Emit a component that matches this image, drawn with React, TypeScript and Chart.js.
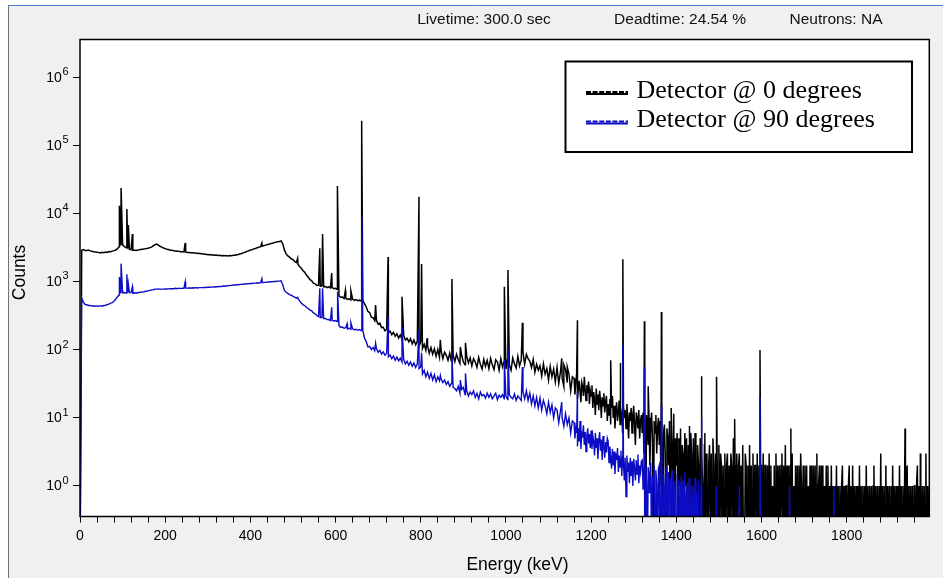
import { useEffect, useRef } from "react";
import { Chart, registerables } from "chart.js";

Chart.register(...registerables);

const W = 943;
const H = 578;

// Below 1160 keV the spectrum is kept in 4 keV bins, above it in 2 keV bins.
const COARSE_KEV = 4;
const FINE_START_KEV = 1160;
const FINE_KEV = 2;

// Detector @ 0 degrees, 0 - 1156 keV (ten 4 keV bins per row).
const COUNTS_0DEG = [
  0, 2900, 2960, 2870, 2880, 2910, 2830, 2800, 2760, 2730,
  2700, 2690, 2640, 2710, 2670, 2730, 2690, 2770, 2760, 2810,
  2860, 2920, 3050, 3250, 3400, 3480, 3300, 3150, 3050, 2980,
  2960, 2890, 2900, 2870, 2930, 2940, 2990, 2990, 3030, 3060,
  3090, 3160, 3210, 3360, 3490, 3560, 3440, 3310, 3210, 3120,
  3060, 2990, 2960, 2890, 2890, 2840, 2830, 2790, 2790, 2750,
  2760, 2730, 2730, 2690, 2690, 2650, 2660, 2630, 2630, 2590,
  2610, 2570, 2570, 2530, 2530, 2490, 2510, 2470, 2480, 2450,
  2460, 2430, 2440, 2410, 2430, 2400, 2410, 2390, 2420, 2410,
  2440, 2440, 2490, 2510, 2570, 2590, 2670, 2710, 2790, 2840,
  2910, 2950, 3030, 3070, 3160, 3190, 3270, 3310, 3390, 3440,
  3510, 3550, 3630, 3670, 3750, 3790, 3870, 3900, 3970, 3600,
  2900, 2560, 2390, 2290, 2170, 2110, 1990, 1910, 1790, 1660,
  1560, 1440, 1360, 1240, 1160, 1070, 1030, 950, 930, 880,
  890, 860, 870, 840, 850, 820, 840, 810, 820, 790,
  800, 770, 620, 590, 595, 565, 575, 550, 560, 540,
  555, 530, 545, 525, 535, 520, 530, 470, 425, 365,
  352, 301, 296, 268, 270, 238, 246, 212, 214, 190,
  200, 176, 188, 166, 181, 158, 172, 149, 165, 143,
  162, 139, 147, 131, 146, 122, 139, 118, 133, 112,
  131, 104, 120, 98, 115, 89, 108, 86, 103, 80,
  101, 78, 95, 74, 92, 83, 70, 89, 68, 84,
  67, 86, 72, 63, 83, 66, 60, 80, 64, 76,
  58, 74, 66, 55, 77, 61, 52, 72, 57, 70,
  53, 75, 60, 51, 71, 66, 50, 74, 56, 68,
  52, 73, 59, 50, 76, 62, 54, 80, 58, 71,
  92, 61, 86, 74, 68, 55, 72, 47, 61, 50,
  58, 41, 62, 44, 53, 36, 57, 40, 52, 34,
  55, 32, 47, 38, 29, 51, 33, 44, 25, 40,
];

// Detector @ 0 degrees, 1160 - 1998 keV (twenty 2 keV bins per row).
const COUNTS_0DEG_HIGH = [
  38, 22, 31, 45, 19, 27, 35, 24, 17, 33, 29, 21, 40, 26, 18, 30, 23, 34, 16, 25,
  21, 30, 14, 24, 19, 11, 27, 16, 22, 13, 25, 18, 10, 20, 15, 23, 12, 17, 21, 9,
  16, 11, 19, 8, 14, 21, 10, 15, 7, 13, 17, 9, 12, 18, 8, 14, 11, 6, 15, 10,
  13, 7, 16, 10, 5, 12, 9, 14, 6, 11, 15, 8, 4, 12, 10, 7, 13, 5, 9, 11,
  6, 12, 3, 9, 0, 11, 7, 4, 10, 2, 8, 12, 5, 0, 9, 6, 11, 3, 7, 10,
  4, 9, 1, 7, 0, 6, 8, 3, 0, 7, 5, 2, 9, 0, 6, 4, 1, 8, 0, 5,
  2, 6, 0, 5, 1, 7, 0, 4, 3, 0, 6, 1, 5, 0, 4, 2, 0, 6, 3, 0,
  5, 0, 6, 1, 0, 4, 2, 0, 5, 0, 3, 1, 0, 4, 0, 3, 1, 0, 2, 4,
  0, 3, 0, 5, 2, 0, 3, 0, 2, 0, 4, 0, 3, 2, 0, 2, 0, 3, 0, 2,
  3, 0, 2, 0, 3, 2, 0, 5, 0, 2, 0, 3, 0, 2, 3, 0, 2, 0, 4, 0,
  0, 3, 2, 0, 2, 0, 4, 0, 2, 0, 3, 0, 2, 2, 0, 3, 0, 2, 0, 2,
  2, 0, 3, 0, 2, 2, 0, 2, 0, 3, 0, 2, 0, 1, 0, 2, 0, 3, 0, 2,
  0, 2, 0, 2, 3, 0, 2, 0, 4, 0, 2, 0, 2, 0, 2, 0, 3, 0, 1, 0,
  2, 0, 2, 0, 2, 0, 3, 1, 0, 2, 0, 2, 0, 2, 0, 1, 0, 2, 0, 2,
  0, 2, 0, 2, 0, 3, 0, 1, 2, 0, 2, 0, 2, 0, 1, 0, 2, 0, 2, 0,
  1, 0, 2, 0, 1, 0, 1, 0, 2, 0, 1, 0, 1, 0, 1, 2, 0, 1, 0, 1,
  1, 0, 1, 2, 0, 1, 0, 2, 0, 1, 0, 1, 0, 1, 0, 2, 0, 1, 0, 1,
  0, 1, 0, 2, 0, 1, 0, 1, 0, 1, 0, 1, 2, 0, 1, 0, 1, 0, 1, 0,
  3, 0, 1, 0, 1, 0, 2, 0, 1, 0, 1, 0, 1, 0, 2, 0, 1, 0, 1, 0,
  1, 0, 2, 0, 1, 0, 1, 0, 1, 0, 1, 2, 0, 1, 0, 1, 0, 1, 0, 1,
  1, 0, 1, 2, 0, 1, 0, 1, 0, 1, 0, 1, 0, 3, 0, 1, 0, 1, 0, 1,
];

// Detector @ 90 degrees, 0 - 1156 keV.
const COUNTS_90DEG = [
  0, 575, 500, 462, 458, 447, 449, 438, 443, 436,
  441, 434, 444, 437, 447, 449, 462, 468, 483, 492,
  521, 556, 603, 636, 672, 688, 694, 681, 693, 690,
  694, 677, 688, 678, 693, 692, 704, 702, 718, 722,
  738, 742, 758, 762, 778, 777, 783, 772, 778, 777,
  783, 781, 784, 787, 789, 787, 798, 788, 803, 792,
  803, 797, 808, 798, 813, 802, 813, 807, 818, 807,
  818, 817, 818, 822, 823, 827, 828, 832, 833, 837,
  843, 842, 853, 847, 863, 857, 873, 867, 883, 882,
  893, 892, 903, 902, 913, 912, 923, 922, 933, 932,
  943, 942, 953, 952, 963, 957, 968, 967, 978, 977,
  988, 987, 998, 997, 1008, 1007, 1018, 1017, 1032, 900,
  742, 698, 673, 647, 632, 607, 593, 572, 562, 518,
  482, 457, 443, 417, 403, 382, 372, 347, 337, 318,
  308, 297, 298, 287, 288, 277, 278, 269, 272, 265,
  268, 259, 228, 212, 215, 207, 211, 202, 207, 200,
  203, 197, 200, 193, 198, 191, 192, 148, 132, 110,
  112, 101, 108, 97, 104, 92, 98, 86, 93, 83,
  89, 79, 84, 74, 81, 70, 78, 69, 75, 66,
  72, 62, 68, 59, 66, 57, 64, 55, 62, 53,
  56, 44, 50, 40, 47, 38, 45, 36, 43, 34,
  40, 35, 37, 33, 36, 31, 34, 29, 32, 28,
  27, 25, 29, 23, 26, 28, 22, 25, 21, 24,
  22, 25, 20, 23, 19, 24, 21, 22, 19.5, 23,
  20, 22.5, 19, 21, 23, 18.5, 21.5, 20, 22, 19,
  21, 18.5, 22, 20, 19, 22.5, 18, 21, 19.5, 18,
  24, 19, 25, 18, 23, 16, 21, 15, 20, 14,
  19.5, 13, 18, 15, 11.5, 17, 12, 15.5, 10, 14,
  13, 8.5, 12.5, 10, 7.5, 11.5, 8, 10, 6, 9,
];

// Detector @ 90 degrees, 1160 - 1998 keV.
const COUNTS_90DEG_HIGH = [
  8.5, 5, 7.5, 6, 3.8, 7, 4.5, 9, 3.5, 6, 5.5, 7.8, 4, 6.2, 3.2, 5.6, 7, 4.2, 5.8, 3.6,
  6.5, 3.5, 5.5, 4.5, 2.8, 6, 3.6, 5, 2.5, 4.6, 6.2, 3.3, 4.8, 2.4, 5.4, 3.8, 2.6, 4.4, 3.1, 5,
  4.5, 2.2, 3.8, 2.6, 1.8, 3.5, 2, 3.2, 1.5, 3, 2.4, 3.6, 1.6, 2.8, 1.9, 3.3, 1.4, 2.7, 2.1, 1.2,
  2.6, 0.7, 2.8, 1.6, 2.2, 1.1, 2.6, 1.4, 2.3, 1, 2.5, 1.8, 1.2, 2.4, 1.5, 2.9, 1.1, 2, 1.6, 2.3,
  2.4, 0.9, 1.8, 0, 2.1, 1.2, 0, 1.9, 0.8, 1.6, 2.2, 0, 1.4, 1, 2, 0, 1.7, 1.1, 0, 1.8,
  2, 0, 1.7, 1, 0, 1.5, 0.9, 0, 1.9, 1.1, 0, 1.6, 0.8, 1.3, 0, 1.7, 0, 1.2, 0.9, 0,
  0, 1.5, 0, 1.2, 0, 0.9, 1.4, 0, 1.2, 0, 1.6, 0, 0.8, 1.1, 0, 1.3, 0, 0, 1, 0,
  1, 0, 1.3, 0, 0.8, 0, 1.2, 0, 0, 1, 0, 0, 0, 0, 0, 0, 0, 0, 0, 0,
  0, 0, 0, 0, 0, 0, 0, 1, 0, 0, 0, 0, 0, 0, 0, 0, 0, 0, 0, 0,
  0, 0, 0, 0, 0, 0, 0, 0, 0, 0, 0, 0, 0, 0, 1, 0, 0, 0, 0, 0,
  0, 0, 0, 0, 0, 0, 0, 0, 0, 0, 0, 0, 0, 0, 0, 0, 0, 0, 0, 0,
  0, 0, 0, 0, 0, 0, 0, 0, 0, 0, 0, 0, 0, 0, 0, 0, 0, 0, 0, 0,
  0, 0, 0, 0, 0, 0, 0, 0, 0, 0, 0, 0, 0, 1, 0, 0, 0, 0, 0, 0,
  0, 0, 0, 0, 0, 0, 0, 0, 0, 0, 0, 0, 0, 0, 0, 0, 0, 0, 0, 0,
  0, 0, 0, 0, 0, 0, 0, 0, 0, 0, 0, 0, 0, 0, 0, 0, 0, 0, 0, 0,
  0, 0, 0, 0, 0, 1, 0, 0, 0, 0, 0, 0, 0, 0, 0, 0, 0, 0, 0, 0,
  0, 0, 0, 0, 0, 0, 0, 0, 0, 0, 0, 0, 0, 0, 0, 0, 0, 0, 0, 0,
  0, 0, 0, 0, 0, 0, 0, 0, 0, 0, 0, 0, 0, 0, 0, 0, 0, 0, 0, 0,
  0, 0, 0, 0, 0, 0, 0, 0, 0, 0, 0, 0, 0, 0, 0, 0, 0, 0, 0, 0,
  0, 0, 0, 0, 0, 0, 0, 0, 0, 0, 0, 0, 0, 0, 0, 0, 0, 0, 0, 0,
  0, 0, 0, 0, 0, 0, 0, 0, 0, 0, 0, 0, 0, 0, 0, 0, 0, 0, 0, 0,
];

// Photopeak centroids (keV) and their maximum counts.
const PEAK_KEV_0DEG = [
  92.5, 96.5, 110, 113.5, 123, 247, 427, 511, 563, 569.5, 591, 604, 604.8,
  623, 636, 660.9, 661.7, 694, 723.3, 756, 795.9, 802, 815, 846, 873.2,
  893, 905, 996.3, 1004.7, 1038.6, 1131, 1136, 1144, 1167.9, 1246, 1268,
  1274.5, 1325, 1334, 1365, 1388, 1394, 1430, 1459, 1467, 1494.5, 1537,
  1596.5, 1669, 1937, 1973,
];
const PEAK_COUNTS_0DEG = [
  13000, 23800, 11700, 6800, 5000, 3700, 3700, 2200, 3100, 5000, 1340, 12500, 25400,
  740, 735, 44000, 231000, 455, 2300, 600, 17700, 1810, 148, 140, 1090,
  110, 127, 840, 1480, 250, 75, 60, 56, 272, 70, 64,
  2130, 263, 29, 360, 14, 11.5, 7.6, 41, 6, 40, 9.6,
  99, 7, 7, 3,
];
const PEAK_KEV_90DEG = [
  92.5, 96.5, 110, 113.5, 123, 247, 427, 511, 563, 569.5, 591, 604.8, 627,
  636, 661.7, 694, 723.3, 756, 795.9, 802, 846, 873.2, 893, 905, 996.3,
  1004.7, 1038.6, 1131, 1167.9, 1274.5, 1325, 1365, 1459, 1596.5,
];
const PEAK_COUNTS_90DEG = [
  1170, 1840, 1280, 920, 840, 1000, 1110, 590, 800, 800, 420, 710, 240,
  250, 8950, 124, 305, 217, 195, 90, 42, 88, 36, 45, 70,
  110, 56, 17, 25, 117, 56, 15, 10, 20,
];

const SERIES_NAMES = ["Detector @ 0 degrees", "Detector @ 90 degrees"];
const SERIES_COLORS = ["#000000", "#0c0cc4"];
const HEADER_TEXT = ["Livetime: 300.0 sec", "Deadtime: 24.54 %", "Neutrons: NA"];
const HEADER_X = [484, 680, 836];
const X_TITLE = "Energy (keV)";
const Y_TITLE = "Counts";

const X_MAX_KEV = 1994;
const X_TICK_STEP = 40;
const X_LABEL_STEP = 200;
const Y_MIN = 0.356;
const Y_MAX = 3.6e6;
const Y_DECADES = [0, 1, 2, 3, 4, 5, 6];
// Empty bins cannot sit on a log axis; they are drawn just below its floor.
const EMPTY_BIN = 0.05;

const SANS = '"Liberation Sans", Arial, sans-serif';
const SERIF = '"Liberation Serif", "Times New Roman", serif';

function buildSeries(low: number[], high: number[], peakKev: number[], peakCounts: number[]) {
  const pts = low.map((c, i) => ({ x: i * COARSE_KEV, y: c }));
  high.forEach((c, i) => pts.push({ x: FINE_START_KEV + i * FINE_KEV, y: c }));
  peakKev.forEach((e, i) => pts.push({ x: e, y: peakCounts[i] }));
  pts.sort((a, b) => a.x - b.x);
  return pts.map((p) => ({ x: p.x, y: p.y > 0 ? p.y : EMPTY_BIN }));
}

const decorations = {
  id: "decorations",
  beforeDraw(chart: any) {
    const { ctx, chartArea: a } = chart;
    ctx.save();
    ctx.fillStyle = "#ffffff";
    ctx.fillRect(0, 0, W, H);
    ctx.fillStyle = "#f0f0f0";
    ctx.fillRect(8, 5, W - 8, H - 5);
    ctx.lineWidth = 1;
    ctx.strokeStyle = "#4a7fd6";
    ctx.beginPath();
    ctx.moveTo(8, 5.5);
    ctx.lineTo(W, 5.5);
    ctx.stroke();
    ctx.strokeStyle = "#707070";
    ctx.beginPath();
    ctx.moveTo(8.5, 5);
    ctx.lineTo(8.5, H);
    ctx.stroke();
    ctx.fillStyle = "#ffffff";
    ctx.fillRect(a.left, a.top, a.right - a.left, a.bottom - a.top);
    ctx.restore();
  },
  afterDraw(chart: any) {
    const { ctx, chartArea: a } = chart;
    const yScale = chart.scales.y;
    ctx.save();

    // plot frame
    ctx.strokeStyle = "#000";
    ctx.lineWidth = 1.5;
    ctx.strokeRect(a.left, a.top, a.right - a.left, a.bottom - a.top);

    // decade labels 10^n
    ctx.fillStyle = "#000";
    ctx.textBaseline = "alphabetic";
    for (const d of Y_DECADES) {
      const py = yScale.getPixelForValue(Math.pow(10, d));
      ctx.font = `14px ${SANS}`;
      ctx.textAlign = "right";
      ctx.fillText("10", 61.8, py + 4.5);
      ctx.font = `11px ${SANS}`;
      ctx.textAlign = "left";
      ctx.fillText(String(d), 62.4, py - 2.2);
    }

    // axis titles
    ctx.font = `17.5px ${SANS}`;
    ctx.textAlign = "center";
    ctx.textBaseline = "middle";
    ctx.fillText(X_TITLE, 517.5, 565);
    ctx.save();
    ctx.translate(20, 272.5);
    ctx.rotate(-Math.PI / 2);
    ctx.fillText(Y_TITLE, 0, 0);
    ctx.restore();

    // acquisition header
    ctx.font = `15.5px ${SANS}`;
    ctx.fillStyle = "#111";
    HEADER_TEXT.forEach((t, i) => ctx.fillText(t, HEADER_X[i], 20));

    // legend box
    const lx = 565.5, ly = 61.5, lw = 346.5, lh = 90.5;
    ctx.fillStyle = "#fff";
    ctx.fillRect(lx, ly, lw, lh);
    ctx.strokeStyle = "#000";
    ctx.lineWidth = 2;
    ctx.strokeRect(lx, ly, lw, lh);
    const rows = [93.3, 122.6];
    SERIES_NAMES.forEach((name, i) => {
      const y = rows[i];
      ctx.strokeStyle = SERIES_COLORS[i];
      ctx.lineWidth = 2;
      ctx.setLineDash([]);
      ctx.beginPath();
      ctx.moveTo(586, y + 0.8);
      ctx.lineTo(628, y + 0.8);
      ctx.stroke();
      ctx.setLineDash([5, 1.6]);
      ctx.beginPath();
      ctx.moveTo(586, y - 1.2);
      ctx.lineTo(628, y - 1.2);
      ctx.stroke();
      ctx.setLineDash([]);
      ctx.fillStyle = "#000";
      ctx.font = `26px ${SERIF}`;
      ctx.textAlign = "left";
      ctx.textBaseline = "alphabetic";
      ctx.fillText(name, 636.5, y + 4.6);
    });
    ctx.restore();
  },
};

export default function App() {
  const ref = useRef<HTMLCanvasElement>(null);

  useEffect(() => {
    if (!ref.current) return;
    const chart = new Chart(ref.current, {
      type: "line",
      data: {
        datasets: [
          {
            label: SERIES_NAMES[1],
            data: buildSeries(COUNTS_90DEG, COUNTS_90DEG_HIGH, PEAK_KEV_90DEG, PEAK_COUNTS_90DEG),
            borderColor: SERIES_COLORS[1],
            borderWidth: 1.4,
            pointRadius: 0,
            fill: false,
            tension: 0,
            order: 0,
          },
          {
            label: SERIES_NAMES[0],
            data: buildSeries(COUNTS_0DEG, COUNTS_0DEG_HIGH, PEAK_KEV_0DEG, PEAK_COUNTS_0DEG),
            borderColor: SERIES_COLORS[0],
            borderWidth: 1.5,
            pointRadius: 0,
            fill: false,
            tension: 0,
            order: 1,
          },
        ],
      },
      options: {
        responsive: false,
        animation: false,
        devicePixelRatio: 1,
        events: [],
        layout: { padding: { left: 0, top: 39.5, right: 13.7, bottom: 0 } },
        plugins: {
          legend: { display: false },
          tooltip: { enabled: false },
          title: { display: false },
        },
        scales: {
          x: {
            type: "linear",
            min: 0,
            max: X_MAX_KEV,
            position: "bottom",
            border: { display: false },
            grid: { drawOnChartArea: false, drawTicks: true, tickLength: 6, color: "#000", lineWidth: 1 },
            ticks: {
              stepSize: X_TICK_STEP,
              autoSkip: false,
              maxRotation: 0,
              includeBounds: false,
              padding: 5,
              color: "#000",
              font: { family: SANS, size: 14 },
              callback: (v: any) => (Number(v) % X_LABEL_STEP === 0 ? String(v) : ""),
            },
            afterFit: (s: any) => {
              s.height = 61.5;
            },
          },
          y: {
            type: "logarithmic",
            min: Y_MIN,
            max: Y_MAX,
            border: { display: false },
            grid: { drawOnChartArea: false, drawTicks: true, tickLength: 7, color: "#000", lineWidth: 1 },
            ticks: { callback: () => "" },
            afterBuildTicks: (s: any) => {
              s.ticks = Y_DECADES.map((d) => ({ value: Math.pow(10, d) }));
            },
            afterFit: (s: any) => {
              s.width = 80;
            },
          },
        },
      },
      plugins: [decorations],
    } as any);
    return () => chart.destroy();
  }, []);

  return (
    <div style={{ position: "absolute", left: 0, top: 0, width: W, height: H }}>
      <canvas ref={ref} width={W} height={H} style={{ width: W, height: H, display: "block" }} />
    </div>
  );
}
